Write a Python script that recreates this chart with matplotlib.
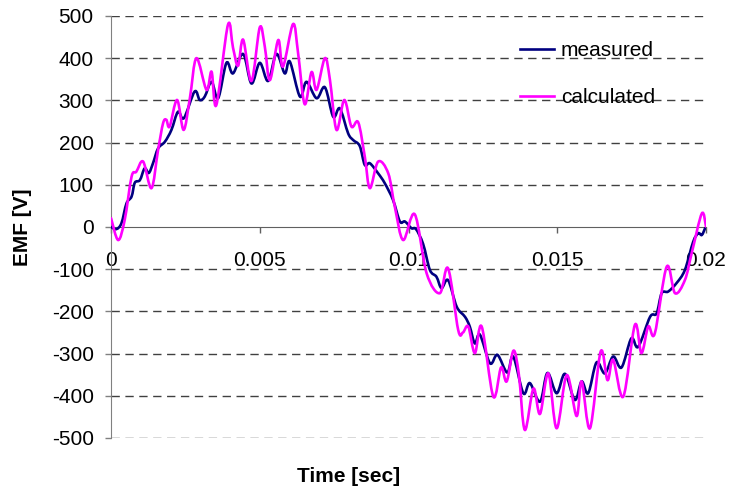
import matplotlib
matplotlib.use("Agg")
import matplotlib.pyplot as plt
import matplotlib.ticker as mticker
from matplotlib.path import Path
from matplotlib.patches import PathPatch
from matplotlib.lines import Line2D

# Measured back-EMF waveform (time in ms, EMF in V)
t_measured_ms = [0.00, 0.18, 0.35, 0.52, 0.69, 0.80, 0.97, 1.13, 1.27, 1.41,
                 1.58, 1.81, 2.03, 2.25, 2.45, 2.81, 2.98, 3.15, 3.38, 3.60,
                 3.88, 4.10, 4.44, 4.72, 5.00, 5.28, 5.56, 5.84, 6.01, 6.35,
                 6.57, 6.91, 7.19, 7.47, 7.69, 7.97, 8.14, 8.36, 8.53, 8.70,
                 8.98, 9.20, 9.48, 9.71, 9.88, 10.10, 10.25, 10.49, 10.72, 10.94,
                 11.11, 11.33, 11.62, 11.90, 12.06, 12.23, 12.40, 12.74, 12.99, 13.32,
                 13.52, 13.86, 14.08, 14.42, 14.67, 14.98, 15.26, 15.59, 15.82, 16.04,
                 16.32, 16.60, 16.88, 17.16, 17.49, 17.72, 18.12, 18.34, 18.51, 18.73,
                 19.01, 19.29, 19.57, 19.74, 19.86, 19.97]
emf_measured = [0, -5, 9, 56, 72, 105, 111, 139, 128, 151,
                186, 202, 230, 273, 258, 321, 301, 309, 344, 305,
                389, 364, 410, 340, 389, 346, 410, 364, 392, 309,
                344, 305, 331, 261, 281, 222, 206, 192, 147, 151,
                127, 104, 64, 13, 13, -3, -5, -40, -102, -118,
                -145, -126, -189, -213, -236, -276, -255, -323, -303, -345,
                -307, -394, -370, -414, -346, -394, -348, -410, -366, -394,
                -321, -347, -307, -333, -264, -284, -213, -205, -157, -153,
                -133, -102, -35, -15, -19, -3]

# Calculated back-EMF waveform (time in ms, EMF in V)
t_calculated_ms = [0.00, 0.24, 0.46, 0.69, 0.85, 1.08, 1.36, 1.58, 1.75, 1.86,
                   1.97, 2.22, 2.44, 2.65, 2.87, 3.21, 3.38, 3.54, 3.93, 4.10,
                   4.27, 4.44, 4.72, 5.00, 5.17, 5.34, 5.62, 5.78, 6.12, 6.29,
                   6.51, 6.74, 6.91, 7.19, 7.36, 7.58, 7.84, 8.08, 8.31, 8.53,
                   8.70, 8.98, 9.32, 9.54, 9.82, 10.21, 10.61, 11.05, 11.33, 11.67,
                   11.83, 12.01, 12.23, 12.46, 12.85, 13.11, 13.30, 13.53, 13.71, 13.91,
                   14.20, 14.42, 14.70, 14.98, 15.32, 15.65, 15.82, 16.10, 16.46, 16.69,
                   16.88, 17.22, 17.61, 17.83, 18.06, 18.28, 18.68, 18.96, 19.29, 19.52,
                   19.86, 20.00]
emf_calculated = [21, -31, 17, 119, 131, 155, 92, 182, 246, 254,
                  238, 301, 230, 305, 400, 325, 368, 289, 479, 425,
                  382, 444, 346, 473, 427, 348, 443, 380, 481, 411,
                  291, 367, 325, 400, 348, 230, 301, 238, 248, 167,
                  92, 155, 127, 48, -31, 30, -110, -157, -98, -244,
                  -250, -236, -299, -236, -402, -333, -366, -293, -350, -481,
                  -383, -443, -347, -477, -351, -448, -366, -477, -295, -363,
                  -315, -402, -232, -299, -236, -252, -94, -157, -126, -62,
                  32, 1]

x_ticks = [0, 0.005, 0.01, 0.015, 0.02]
x_tick_labels = ["0", "0.005", "0.01", "0.015", "0.02"]
y_ticks = [-500, -400, -300, -200, -100, 0, 100, 200, 300, 400, 500]

MEASURED_COLOR = "#000080"
CALCULATED_COLOR = "#FF00FF"
LINE_WIDTH = 1.9


def smoothed_path(xs, ys):
    """Bezier path through every sample, like a spreadsheet 'smoothed line'."""
    n = len(xs)
    verts = [(xs[0], ys[0])]
    codes = [Path.MOVETO]
    for i in range(n - 1):
        a = max(i - 1, 0)
        d = min(i + 2, n - 1)
        c1 = (xs[i] + (xs[i + 1] - xs[a]) / 6.0, ys[i] + (ys[i + 1] - ys[a]) / 6.0)
        c2 = (xs[i + 1] - (xs[d] - xs[i]) / 6.0, ys[i + 1] - (ys[d] - ys[i]) / 6.0)
        verts += [c1, c2, (xs[i + 1], ys[i + 1])]
        codes += [Path.CURVE4] * 3
    return Path(verts, codes)


plt.rcParams["font.family"] = ["Liberation Sans", "DejaVu Sans"]

fig = plt.figure(figsize=(7.30, 4.95), dpi=100)
ax = fig.add_axes([0.1521, 0.1152, 0.8150, 0.8525])

t_measured = [t / 1000.0 for t in t_measured_ms]
t_calculated = [t / 1000.0 for t in t_calculated_ms]

for xs, ys, color, z in [(t_measured, emf_measured, MEASURED_COLOR, 3),
                         (t_calculated, emf_calculated, CALCULATED_COLOR, 4)]:
    ax.add_patch(PathPatch(smoothed_path(xs, ys), facecolor="none", edgecolor=color,
                           lw=LINE_WIDTH, joinstyle="round", capstyle="round",
                           zorder=z))

ax.set_xlim(0, 0.02)
ax.set_ylim(-500, 500)

# horizontal dashed grid (skip the zero line, which is the x axis itself)
for y in y_ticks:
    if y != 0:
        ax.axhline(y, color="#404040", lw=1.0, ls=(0, (6, 4)), zorder=1)

ax.spines["top"].set_visible(False)
ax.spines["right"].set_visible(False)
ax.spines["left"].set_color("#808080")
ax.spines["bottom"].set_position(("data", 0))
ax.spines["bottom"].set_color("#606060")
ax.spines["left"].set_zorder(2)

ax.xaxis.set_major_locator(mticker.FixedLocator(x_ticks))
ax.xaxis.set_major_formatter(mticker.FixedFormatter(x_tick_labels))
ax.yaxis.set_major_locator(mticker.FixedLocator(y_ticks))
ax.yaxis.set_major_formatter(mticker.FuncFormatter(lambda v, p: f"{int(v)}"))

ax.tick_params(axis="x", direction="out", length=4.5, width=1, color="#606060",
               labelsize=15, pad=13)
ax.tick_params(axis="y", direction="out", length=4.5, width=1, color="#808080",
               labelsize=15, pad=8)

ax.set_ylabel("EMF [V]", fontsize=15, fontweight="bold")
ax.yaxis.set_label_coords(-0.132, 0.5)
fig.text(349 / 730, 1 - 476 / 495, "Time [sec]", fontsize=15, fontweight="bold",
         ha="center", va="center")

handles = [Line2D([], [], color=MEASURED_COLOR, lw=LINE_WIDTH),
           Line2D([], [], color=CALCULATED_COLOR, lw=LINE_WIDTH)]
ax.legend(handles, ["measured", "calculated"], loc="upper left",
          bbox_to_anchor=(520 / 730, 1 - 41 / 495),
          bbox_transform=fig.transFigure, frameon=False, fontsize=15,
          handlelength=1.65, handletextpad=0.3, labelspacing=1.35,
          borderpad=0, borderaxespad=0)

fig.savefig("out.png", dpi=100)
